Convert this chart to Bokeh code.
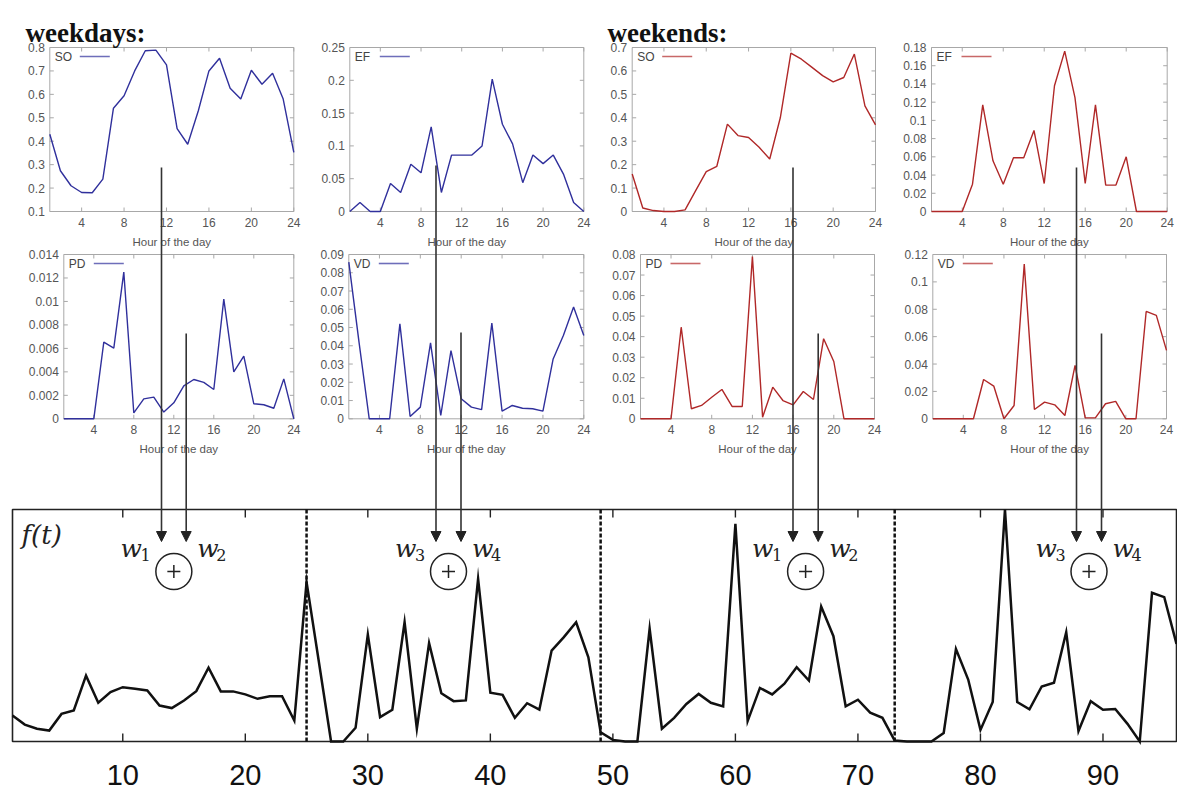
import numpy as np
from bokeh.plotting import figure
from bokeh.models import Range1d, Arrow, NormalHead
from bokeh.embed import file_html
from bokeh.resources import INLINE
from bokeh.core.properties import value

# ---------------- data ----------------
hours = list(range(1, 25))
hour_ticks = [4, 8, 12, 16, 20, 24]

so_weekdays = [0.43, 0.274, 0.21, 0.181, 0.18, 0.238, 0.541, 0.594, 0.70, 0.786, 0.789, 0.726,
               0.454, 0.387, 0.53, 0.70, 0.754, 0.626, 0.58, 0.703, 0.643, 0.69, 0.58, 0.352]
ef_weekdays = [0.0, 0.0137, 0.0, 0.0, 0.0427, 0.029, 0.072, 0.059, 0.129, 0.029, 0.086, 0.086,
               0.086, 0.10, 0.2017, 0.133, 0.103, 0.044, 0.086, 0.073, 0.086, 0.057, 0.0137, 0.0]
pd_weekdays = [0.0, 0.0, 0.0, 0.0, 0.00653, 0.00602, 0.0125, 0.0005, 0.0017, 0.00185, 0.00057, 0.00136,
               0.0028, 0.00335, 0.0031, 0.0025, 0.0102, 0.004, 0.00534, 0.00128, 0.0012, 0.0009, 0.0034, 0.0]
vd_weekdays = [0.0858, 0.042, 0.0, 0.0, 0.0, 0.052, 0.0013, 0.0064, 0.0416, 0.0018, 0.0374, 0.011,
               0.0064, 0.005, 0.0524, 0.0042, 0.0073, 0.0058, 0.0055, 0.0042, 0.0328, 0.0456, 0.0612, 0.0456]

so_weekends = [0.16, 0.015, 0.004, 0.0, 0.0, 0.007, 0.089, 0.17, 0.193, 0.373, 0.324, 0.316,
               0.274, 0.224, 0.40, 0.676, 0.65, 0.615, 0.58, 0.553, 0.572, 0.672, 0.451, 0.37]
ef_weekends = [0.0, 0.0, 0.0, 0.0, 0.03, 0.117, 0.0556, 0.03, 0.059, 0.059, 0.089, 0.0307,
               0.138, 0.176, 0.125, 0.0307, 0.117, 0.029, 0.029, 0.06, 0.0, 0.0, 0.0, 0.0]
pd_weekends = [0.0, 0.0, 0.0, 0.0, 0.0446, 0.0049, 0.0065, 0.0105, 0.0143, 0.006, 0.006, 0.079,
               0.0008, 0.0154, 0.0089, 0.0068, 0.0133, 0.0094, 0.039, 0.0279, 0.0, 0.0, 0.0, 0.0]
vd_weekends = [0.0, 0.0, 0.0, 0.0, 0.0, 0.0287, 0.0239, 0.0, 0.0097, 0.113, 0.0068, 0.0122,
               0.0102, 0.0024, 0.039, 0.0007, 0.0007, 0.011, 0.0127, 0.0, 0.0, 0.0784, 0.0755, 0.05]

t = list(range(1, 97))
f_t = [0.112, 0.073, 0.055, 0.047, 0.119, 0.134, 0.284, 0.167, 0.213, 0.234, 0.227, 0.22,
       0.155, 0.144, 0.177, 0.217, 0.318, 0.216, 0.216, 0.203, 0.184, 0.195, 0.195, 0.09,
       0.687, 0.345, 0.0, 0.0, 0.059, 0.461, 0.105, 0.137, 0.514, 0.055, 0.424, 0.208,
       0.174, 0.177, 0.701, 0.21, 0.201, 0.102, 0.165, 0.137, 0.392, 0.45, 0.514, 0.363,
       0.04, 0.007, 0.0, 0.0, 0.486, 0.055, 0.102, 0.162, 0.205, 0.167, 0.151, 0.938,
       0.088, 0.231, 0.203, 0.249, 0.32, 0.263, 0.582, 0.454, 0.152, 0.18, 0.124, 0.102,
       0.004, 0.0, 0.0, 0.0, 0.037, 0.399, 0.267, 0.05, 0.17, 1.0, 0.17, 0.139,
       0.237, 0.253, 0.471, 0.045, 0.174, 0.137, 0.14, 0.076, 0.0, 0.641, 0.622, 0.421]
t_ticks = [10, 20, 30, 40, 50, 60, 70, 80, 90]
day_boundaries = [25, 49, 73]

BLUE = "#30309c"
RED = "#b02828"

# ---------------- canvas (page pixel coordinates) ----------------
p = figure(width=1177, height=793, x_range=Range1d(0, 1177), y_range=Range1d(793, 0),
           min_border=0, toolbar_location=None, output_backend="svg",
           x_axis_location=None, y_axis_location=None, outline_line_color=None,
           background_fill_color="white", border_fill_color="white")
p.grid.visible = False

SANS = value("Liberation Sans")
SERIF = value("DejaVu Serif")


def small_panel(px0, px1, py_top, py_bot, ymin, ymax, ystep, series, color, name):
    sub = p.subplot(x_source=Range1d(1, 24), y_source=Range1d(ymin, ymax),
                    x_target=Range1d(px0, px1), y_target=Range1d(py_bot, py_top))
    sx = 23.0 / (px1 - px0)            # data units per pixel
    sy = (ymax - ymin) / (py_bot - py_top)
    fc = "#a8a8a8"
    sub.quad(left=[1], right=[24], bottom=[ymin], top=[ymax], fill_color=None,
             line_color=fc, line_width=1)
    yt = [round(v, 6) for v in np.arange(ymin, ymax + ystep / 2, ystep)]
    tl = 4
    # x ticks (inward, mirrored)
    sub.segment(x0=hour_ticks, y0=[ymin] * 6, x1=hour_ticks, y1=[ymin + tl * sy] * 6, line_color=fc)
    sub.segment(x0=hour_ticks, y0=[ymax] * 6, x1=hour_ticks, y1=[ymax - tl * sy] * 6, line_color=fc)
    sub.segment(x0=[1] * len(yt), y0=yt, x1=[1 + tl * sx] * len(yt), y1=yt, line_color=fc)
    sub.segment(x0=[24] * len(yt), y0=yt, x1=[24 - tl * sx] * len(yt), y1=yt, line_color=fc)
    sub.text(x=hour_ticks, y=[ymin] * 6, text=[str(h) for h in hour_ticks],
             text_align="center", text_baseline="top", y_offset=6,
             text_font=SANS, text_font_size="12px", text_color="#555555")
    sub.text(x=[1] * len(yt), y=yt, text=[f"{v:g}" for v in yt],
             text_align="right", text_baseline="middle", x_offset=-5,
             text_font=SANS, text_font_size="12px", text_color="#555555")
    sub.text(x=[12.5], y=[ymin], text=["Hour of the day"], text_align="center",
             text_baseline="middle", y_offset=30, text_font=SANS,
             text_font_size="11.5px", text_color="#555555")
    # legend
    sub.text(x=[1], y=[ymax], text=[name], text_align="left", text_baseline="middle",
             x_offset=5, y_offset=9, text_font=SANS, text_font_size="12px", text_color="#444444")
    sub.segment(x0=[1 + 30 * sx], y0=[ymax - 9 * sy], x1=[1 + 60 * sx], y1=[ymax - 9 * sy],
                line_color=color, line_width=1.6, line_alpha=0.7)
    sub.line(x=hours, y=series, line_color=color, line_width=1.4)


small_panel(49.3, 293.3, 47, 211, 0.1, 0.8, 0.1, so_weekdays, BLUE, "SO")
small_panel(349.3, 583.3, 47, 211, 0.0, 0.25, 0.05, ef_weekdays, BLUE, "EF")
small_panel(631.7, 875, 47, 211, 0.0, 0.7, 0.1, so_weekends, RED, "SO")
small_panel(931, 1166.7, 47, 211, 0.0, 0.18, 0.02, ef_weekends, RED, "EF")
small_panel(63.3, 293.3, 254, 418.3, 0.0, 0.014, 0.002, pd_weekdays, BLUE, "PD")
small_panel(348.3, 583.3, 254, 418.3, 0.0, 0.09, 0.01, vd_weekdays, BLUE, "VD")
small_panel(640, 874, 254, 418.3, 0.0, 0.08, 0.01, pd_weekends, RED, "PD")
small_panel(932.3, 1166, 254, 418.3, 0.0, 0.12, 0.02, vd_weekends, RED, "VD")

# titles
p.text(x=[25, 607], y=[32, 32], text=["weekdays:", "weekends:"], text_align="left",
       text_baseline="alphabetic", text_font=value("Liberation Serif"),
       text_font_style="bold", text_font_size="27px", text_color="#111111")

# ---------------- bottom plot ----------------
bx0, bx1, by_top, by_bot = 12, 1176, 509, 741
big = p.subplot(x_source=Range1d(1, 96), y_source=Range1d(0, 1),
                x_target=Range1d(bx0, bx1), y_target=Range1d(by_bot, by_top))
bsy = 1.0 / (by_bot - by_top)
big.quad(left=[1], right=[96], bottom=[0], top=[1], fill_color=None,
         line_color="#222222", line_width=1.6)
nt = len(t_ticks)
big.segment(x0=t_ticks, y0=[0] * nt, x1=t_ticks, y1=[8 * bsy] * nt, line_color="#222222", line_width=1.4)
big.segment(x0=t_ticks, y0=[1] * nt, x1=t_ticks, y1=[1 - 8 * bsy] * nt, line_color="#222222", line_width=1.4)
big.text(x=t_ticks, y=[0] * nt, text=[str(v) for v in t_ticks], text_align="center",
         text_baseline="middle", y_offset=33, text_font=SANS, text_font_size="29px",
         text_color="#111111")
big.segment(x0=day_boundaries, y0=[0] * 3, x1=day_boundaries, y1=[1] * 3,
            line_color="#111111", line_width=2.5, line_dash="4 2")
big.line(x=t, y=f_t, line_color="#111111", line_width=2.5, line_join="miter")
big.text(x=[1], y=[1], text=["f(t)"], text_align="left", text_baseline="middle",
         x_offset=9, y_offset=25, text_font=SERIF, text_font_style="italic",
         text_font_size="26px", text_color="#222222")

# ---------------- arrows, weights and sum symbols ----------------
arrow_pairs = [(161, 185.7), (435.5, 460.5), (792.5, 817.7), (1076, 1101)]
arrow_tops = [(167, 333), (165, 332), (167, 333), (167, 333)]
weight_names = [("1", "2"), ("3", "4"), ("1", "2"), ("3", "4")]
for (a, b), (ta, tb), (n1, n2) in zip(arrow_pairs, arrow_tops, weight_names):
    for xx, yy in ((a, ta), (b, tb)):
        p.add_layout(Arrow(x_start=xx, y_start=yy, x_end=xx, y_end=541,
                           line_color="#333333", line_width=1.6,
                           end=NormalHead(size=10, fill_color="#222222", line_color="#222222",
                                          line_width=1)))
    p.text(x=[a - 41, b + 11], y=[548, 548], text=["w", "w"], text_align="left",
           text_baseline="alphabetic", text_font=SERIF, text_font_style="italic",
           text_font_size="25px", text_color="#222222")
    p.text(x=[a - 21, b + 30], y=[554, 554], text=[n1, n2], text_align="left",
           text_baseline="alphabetic", text_font=SERIF, text_font_size="16px",
           text_color="#222222")
    cx = (a + b) / 2
    p.scatter(x=[cx], y=[571], size=36, marker="circle", fill_color=None,
              line_color="#222222", line_width=1.5)
    p.segment(x0=[cx - 6.5, cx], y0=[571, 564.5], x1=[cx + 6.5, cx], y1=[571, 577.5],
              line_color="#222222", line_width=1.5)

open("out.html", "w").write(file_html(p, INLINE))
